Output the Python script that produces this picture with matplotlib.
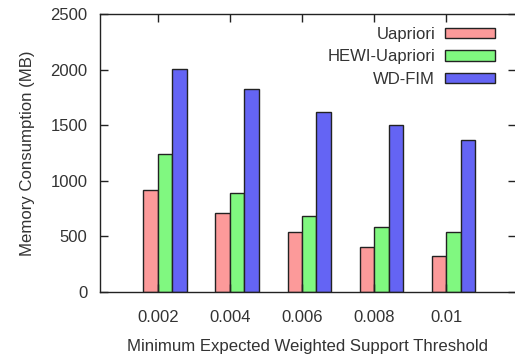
import matplotlib
matplotlib.use("Agg")
import matplotlib.pyplot as plt
import numpy as np

categories = ["0.002", "0.004", "0.006", "0.008", "0.01"]
uapriori = [915, 708, 542, 402, 324]
hewi_uapriori = [1238, 888, 683, 587, 542]
wd_fim = [2003, 1823, 1616, 1499, 1370]
series_names = ["Uapriori", "HEWI-Uapriori", "WD-FIM"]
colors = ["#FC9A9A", "#80F880", "#6464F4"]
yticks = [0, 500, 1000, 1500, 2000, 2500]

plt.rcParams['font.family'] = ['Liberation Sans', 'DejaVu Sans']
txt = "#333333"

fig = plt.figure(figsize=(5.15, 3.6), dpi=100)
ax = fig.add_axes([100/515, 68/360, 1.001 - 100/515, (292-14)/360])

x = np.arange(len(categories))
w = 0.2
for i, (vals, name, c) in enumerate(zip([uapriori, hewi_uapriori, wd_fim], series_names, colors)):
    ax.bar(x + (i - 1) * w, vals, width=w, align='edge', color=c, edgecolor='#222222',
           linewidth=1.0, label=name)

ax.set_xlim(-0.8, 4.96)
ax.set_ylim(0, 2500)
ax.set_yticks(yticks)
ax.set_xticks(x)
ax.set_xticklabels(categories)
ax.tick_params(direction='in', length=6, width=1, top=True, right=True,
               labelsize=12, colors='#222222', labelcolor=txt, pad=9)
ax.tick_params(axis='x', pad=13)
for s in ax.spines.values():
    s.set_linewidth(1.0)
    s.set_color('#222222')

ax.set_xlabel("Minimum Expected Weighted Support Threshold", fontsize=12.1, color=txt, labelpad=10)
ax.set_ylabel("Memory Consumption (MB)", fontsize=12.1, color=txt, labelpad=11)

leg = ax.legend(loc='upper right', bbox_to_anchor=(0.975, 0.99), frameon=False, fontsize=12,
                markerfirst=False, handlelength=3.0, handleheight=0.6, labelspacing=0.45,
                handletextpad=0.6, borderaxespad=0.2)
for t in leg.get_texts():
    t.set_color(txt)
    t.set_ha('right')

fig.savefig("out.png", dpi=100)
